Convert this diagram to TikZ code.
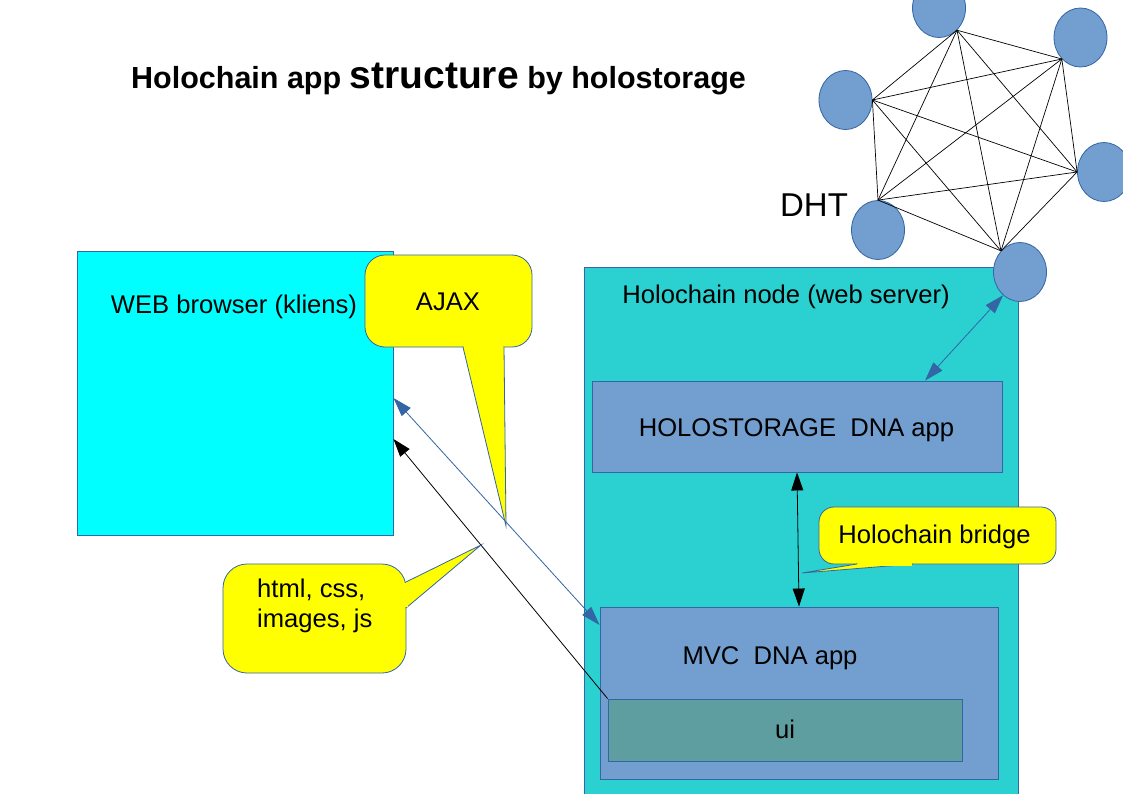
\documentclass[tikz,border=0pt]{standalone}
\usepackage{fontspec}
\setmainfont{Liberation Sans}
\usetikzlibrary{shapes.geometric,arrows.meta}
\definecolor{cyanbox}{HTML}{00FFFF}
\definecolor{turq}{HTML}{2BD0D1}
\definecolor{lblue}{HTML}{729FCF}
\definecolor{dblue}{HTML}{3465A4}
\definecolor{uigreen}{HTML}{5F9EA0}
\definecolor{yel}{HTML}{FFFF00}
\begin{document}
\begin{tikzpicture}[x=1pt,y=-1pt,
  box/.style={rectangle, draw=dblue, line width=0.9pt, inner sep=0pt},
  txt/.style={font=\fontsize{25.6}{30}\selectfont, inner sep=0pt, anchor=base},
  peer/.style={ellipse, fill=lblue, draw=dblue, line width=0.8pt, minimum width=53pt, minimum height=59pt, inner sep=0pt},
  mesh/.style={black, line width=0.7pt},
  callout/.style={fill=yel, draw=dblue, line width=0.8pt},
  patch/.style={fill=yel, draw=none},
  bluearrow/.style={dblue, line width=0.8pt, >={Triangle[length=19pt,width=12pt]}},
  blackarrow/.style={black, line width=0.8pt, >={Triangle[length=18pt,width=12pt]}}
]
\useasboundingbox (0,0) rectangle (1123,794);
\fill[white] (0,0) rectangle (1123,794);

% title
\node[anchor=base, inner sep=0pt, font=\fontsize{30.5}{36}\selectfont\bfseries] (title) at (438.5,89)
  {Holochain app {\fontsize{39}{40}\selectfont structure} by holostorage};

% boxes
\node[box, fill=cyanbox, minimum width=316pt, minimum height=284pt] (web) at (235,393) {};
\node[box, fill=turq, minimum width=434pt, minimum height=533pt] (hnode) at (801,533.5) {};
\node[box, fill=lblue, minimum width=410pt, minimum height=91pt] (hs) at (797,426.5) {};
\node[box, fill=lblue, minimum width=398pt, minimum height=172pt] (mvc) at (799,693) {};
\node[box, fill=uigreen, minimum width=354pt, minimum height=62pt] (ui) at (785,730) {};

% texts
\node[txt] (webt) at (234,313) {WEB browser (kliens)};
\node[txt] (hnodet) at (786,303) {Holochain node (web server)};
\node[txt] (hst) at (796.5,436) {HOLOSTORAGE\ \ DNA app};
\node[txt] (mvct) at (770,664) {MVC\ \ DNA app};
\node[txt] (uit) at (785,738) {ui};

% connectors
\draw[bluearrow, <->] (web.east |- 0,398) -- (mvc.west |- 0,625);
\draw[blackarrow, ->] (ui.north west) -- (web.east |- 0,439);
\draw[blackarrow, <->] (hs.south) -- (mvc.north);

% AJAX callout
\filldraw[callout, rounded corners=20pt] (365,255) rectangle (532,347);
\fill[yel] (463,347) -- (506,526) -- (504,347) -- cycle;
\draw[dblue, line width=0.8pt] (463,347) -- (506,526) -- (504,347);
\fill[patch] (464,345.5) rectangle (503,349);
\node[txt] (ajaxt) at (448,310) {AJAX};

% html callout
\filldraw[callout, rounded corners=24pt] (223,564) rectangle (406,673);
\fill[yel] (406,582) -- (481,545) -- (406,608) -- cycle;
\draw[dblue, line width=0.8pt] (406,582) -- (481,545) -- (406,608);
\fill[patch] (404.5,583) rectangle (408,607);
\node[txt, anchor=base west] (html1) at (257,597) {html, css,};
\node[txt, anchor=base west] (html2) at (257,627) {images, js};

% bridge callout
\filldraw[callout, rounded corners=15pt] (819,507) rectangle (1056,564);
\fill[yel] (857,564) -- (802,573) -- (913,564) -- cycle;
\draw[dblue, line width=0.8pt] (857,564) -- (802,573) -- (913,564);
\fill[patch] (858,562.5) rectangle (912,565.5);
\node[txt] (bridget) at (934.5,543) {Holochain bridge};

% DHT
\node[peer] (T) at (939,8) {};
\node[peer] (UR) at (1080.5,37.5) {};
\node[peer] (L) at (845.5,100) {};
\node[peer] (R) at (1104,172) {};
\node[peer] (BL) at (878,230) {};
\node[peer] (B) at (1020,272) {};
\coordinate (pT) at (T.-51);
\coordinate (pUR) at (UR.-131);
\coordinate (pL) at (L.east);
\coordinate (pR) at (R.west);
\coordinate (pBL) at (BL.north);
\coordinate (pB) at (B.132);
\foreach \a/\b in {pT/pUR,pT/pL,pT/pR,pT/pBL,pT/pB,pUR/pL,pUR/pR,pUR/pBL,pUR/pB,pL/pR,pL/pBL,pL/pB,pR/pBL,pR/pB,pBL/pB}
  \draw[mesh] (\a) -- (\b);
\node[anchor=base, inner sep=0pt, font=\fontsize{33}{36}\selectfont] (dht) at (814,217) {DHT};
\draw[bluearrow, <->] (B.-126) -- (925,0 |- hs.north);
\end{tikzpicture}
\end{document}
